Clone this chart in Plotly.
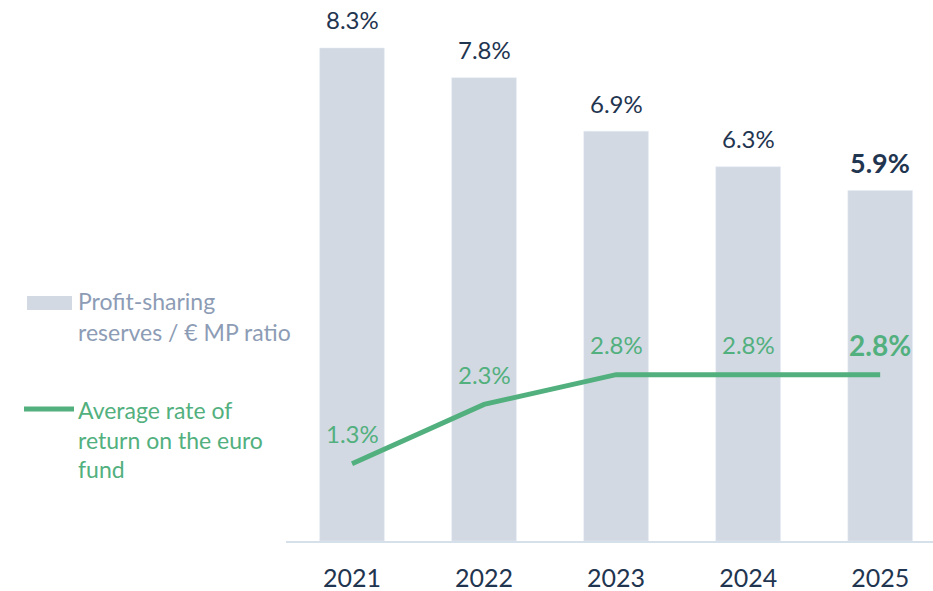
import plotly.graph_objects as go

years = ["2021", "2022", "2023", "2024", "2025"]
reserve_ratio = [8.3, 7.8, 6.9, 6.3, 5.9]
euro_return = [1.3, 2.3, 2.8, 2.8, 2.8]
bar_name_lines = ["Profit-sharing", "reserves / € MP ratio"]
line_name_lines = ["Average rate of", "return on the euro", "fund"]

BAR = "#D3D9E3"
GREEN = "#52B07E"
DARK = "#1F3550"
LEG_GRAY = "#8D9CB5"
FONT = "Lato"

W, H = 933, 591
ML, MR, MT, MB = 286, 0, 10, 50
PW, PH = W - ML - MR, H - MT - MB

def px_x(p):
    return (p - ML) / PW

def px_y(p):
    return (H - MB - p) / PH

fig = go.Figure()
fig.add_trace(go.Bar(x=years, y=reserve_ratio, marker_color=BAR, width=0.49,
                     showlegend=False, hoverinfo="skip"))
fig.add_trace(go.Scatter(x=years, y=euro_return, mode="lines",
                         line=dict(color=GREEN, width=5), showlegend=False,
                         hoverinfo="skip"))

ann = []
n = len(years)
for i, v in enumerate(reserve_ratio):
    last = i == n - 1
    txt = f"<b>{v}%</b>" if last else f"{v}%"
    ann.append(dict(x=i, y=v, yshift=28, text=txt, showarrow=False,
                    font=dict(family=FONT, size=27 if last else 24, color=DARK)))
for i, v in enumerate(euro_return):
    last = i == n - 1
    txt = f"<b>{v}%</b>" if last else f"{v}%"
    ann.append(dict(x=i, y=v, yshift=30, text=txt, showarrow=False,
                    font=dict(family=FONT, size=28 if last else 24, color=GREEN)))

# custom legend
for txt, py in zip(bar_name_lines, [301, 332]):
    ann.append(dict(xref="paper", yref="paper", x=px_x(76), y=px_y(py), xanchor="left",
                    yanchor="middle", text=txt, showarrow=False,
                    font=dict(family=FONT, size=23, color=LEG_GRAY)))
for txt, py in zip(line_name_lines, [410, 440, 469]):
    ann.append(dict(xref="paper", yref="paper", x=px_x(76), y=px_y(py), xanchor="left",
                    yanchor="middle", text=txt, showarrow=False,
                    font=dict(family=FONT, size=23, color=GREEN)))

shapes = [
    dict(type="rect", xref="paper", yref="paper", x0=px_x(27), x1=px_x(72),
         y0=px_y(310), y1=px_y(296), fillcolor=BAR, line=dict(width=0)),
    dict(type="line", xref="paper", yref="paper", x0=px_x(24), x1=px_x(74),
         y0=px_y(409), y1=px_y(409), line=dict(color=GREEN, width=5)),
]

fig.update_layout(
    width=W, height=H, margin=dict(l=ML, r=MR, t=MT, b=MB),
    paper_bgcolor="white", plot_bgcolor="white",
    annotations=ann, shapes=shapes,
    xaxis=dict(type="category", range=[-0.5, 4.4], showgrid=False, zeroline=False,
               showline=True, linecolor="#D5E0EA", linewidth=2, ticks="",
               tickfont=dict(family=FONT, size=25, color=DARK), ticklabelstandoff=14),
    yaxis=dict(range=[0, PH / 59.4], visible=False, showgrid=False, zeroline=False),
)

fig.write_html("out.html", config={"displayModeBar": False},
               post_script="document.body.style.margin='0px';document.body.style.overflow='hidden';")
